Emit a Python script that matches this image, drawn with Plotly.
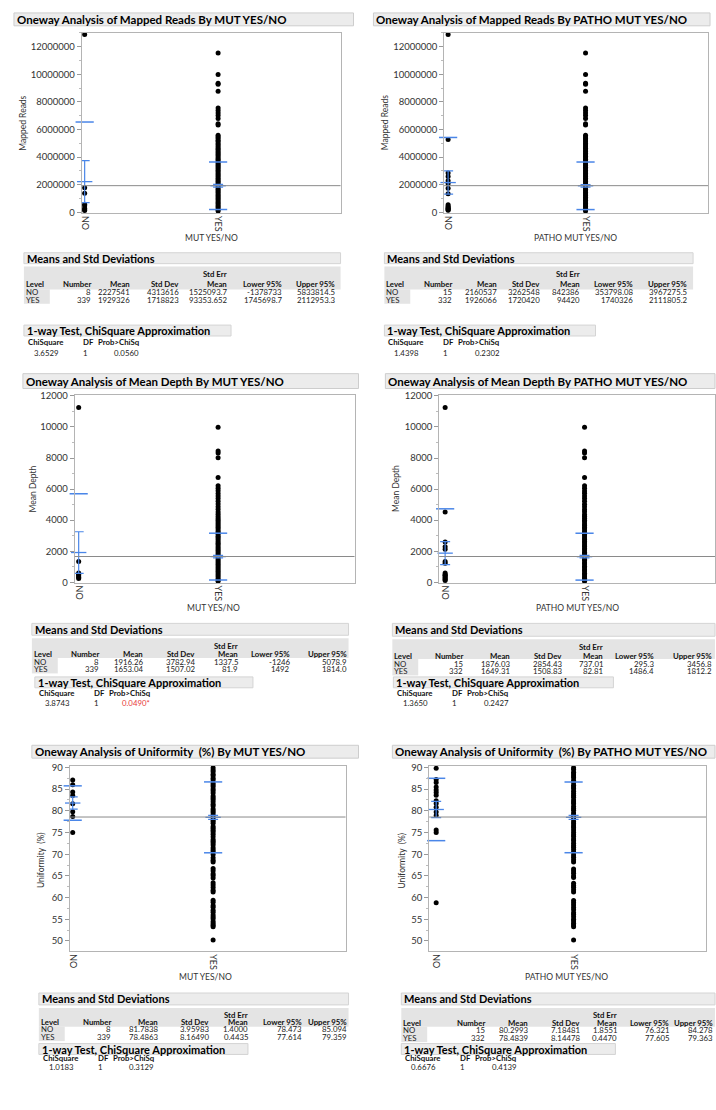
import plotly.graph_objects as go

W, H = 716, 1110
FONT = "Lato"
BLUE = "#4a86e8"
FRAME = "#b4b4b4"
TXT = "#222222"

LEVELS = ["NO", "YES"]

MR_MUT_NO = [12880000, 1780000, 1380000, 590000, 480000, 300000, 200000, 140000]
MR_MUT_YES = [11530000, 9980000, 9340000, 9270000, 8760000, 7560000, 7380000, 7200000, 7020000,
              6790000, 6420000, 6320000, 5580000, 5470000, 5360000, 5230000, 5130000, 4990000,
              4880000, 4760000, 4630000, 4530000, 4410000, 4300000, 4190000, 4080000, 3960000,
              3850000, 3730000, 3620000, 3510000, 3390000, 3280000, 3170000, 3050000, 2940000,
              2820000, 2710000, 2600000, 2480000, 2370000, 2250000, 2140000, 2030000, 1910000,
              1800000, 1680000, 1570000, 1460000, 1340000, 1230000, 1110000, 1000000, 890000,
              770000, 660000, 540000, 430000, 320000, 200000, 110000]
MR_PATHO_NO = [12880000, 5280000, 2850000, 2600000, 2300000, 2100000, 1750000, 1350000,
               550000, 450000, 350000, 300000, 250000, 200000, 150000]
MR_PATHO_YES = [11530000, 9980000, 9340000, 9270000, 8760000, 7560000, 7380000, 7200000, 7020000,
                6790000, 6420000, 6320000, 5580000, 5460000, 5350000, 5240000, 5120000, 4990000,
                4870000, 4760000, 4640000, 4520000, 4410000, 4290000, 4180000, 4070000, 3950000,
                3840000, 3730000, 3610000, 3500000, 3390000, 3270000, 3160000, 3040000, 2930000,
                2820000, 2700000, 2590000, 2480000, 2360000, 2250000, 2130000, 2020000, 1900000,
                1790000, 1680000, 1560000, 1450000, 1330000, 1220000, 1100000, 990000, 880000,
                760000, 650000, 530000, 420000, 310000, 190000, 100000]

MD_MUT_NO = [11260, 1340, 600, 540, 480, 400, 330, 250]
MD_MUT_YES = [9980, 8450, 8330, 8020, 6750, 6210, 6060, 5890, 5720, 5560, 5400, 5210, 5040, 4860,
              4700, 4530, 4380, 4240, 4110, 4000, 3880, 3770, 3650, 3540, 3430, 3310, 3200, 3090,
              2970, 2860, 2750, 2630, 2520, 2410, 2290, 2180, 2070, 1950, 1840, 1730, 1610, 1500,
              1390, 1270, 1160, 1050, 930, 820, 710, 590, 480, 370, 250, 140, 60]
MD_PATHO_NO = [11260, 4520, 2600, 2280, 2120, 1340, 1230, 600, 500, 450, 400, 330, 250, 180, 120]
MD_PATHO_YES = [9980, 8450, 8330, 8020, 6750, 6220, 6050, 5880, 5730, 5550, 5390, 5220, 5030, 4870,
                4690, 4540, 4370, 4250, 4120, 3990, 3890, 3760, 3660, 3530, 3440, 3300, 3210, 3080,
                2980, 2850, 2760, 2620, 2530, 2400, 2300, 2170, 2080, 1940, 1850, 1720, 1620, 1490,
                1400, 1260, 1170, 1040, 940, 810, 720, 580, 490, 360, 260, 130, 60]

UN_MUT_NO = [87.1, 86.0, 84.3, 83.5, 81.6, 79.8, 78.7, 75.0]
UN_MUT_YES = [89.9, 89.4, 89.0, 88.4, 88.1, 87.5, 87.1, 86.4, 86.0, 85.6, 85.0, 84.6, 84.1, 83.4,
              83.0, 82.6, 82.1, 81.5, 81.1, 80.4, 80.0, 79.6, 79.1, 78.5, 78.0, 77.6, 77.1, 76.4,
              76.0, 75.5, 75.1, 74.6, 74.0, 73.4, 73.0, 72.6, 72.1, 71.5, 71.0, 70.6, 69.9, 69.2,
              68.6, 68.2, 66.7, 66.2, 65.5, 65.1, 64.5, 63.4, 62.9, 62.3, 61.7, 61.3, 59.4, 58.9,
              58.2, 57.8, 57.1, 56.6, 56.0, 55.5, 55.1, 54.5, 54.0, 53.6, 53.3, 50.2]
UN_PATHO_NO = [89.8, 87.2, 86.5, 85.5, 84.8, 84.2, 83.6, 82.3, 81.7, 80.8, 79.7, 78.9, 75.6, 75.0, 58.8]
UN_PATHO_YES = [89.9, 89.5, 88.9, 88.5, 88.0, 87.6, 87.0, 86.5, 85.9, 85.5, 85.1, 84.5, 84.0, 83.5,
                83.1, 82.5, 82.0, 81.6, 81.0, 80.5, 80.1, 79.5, 79.0, 78.6, 78.1, 77.5, 77.0, 76.5,
                76.1, 75.6, 75.0, 74.5, 74.1, 73.5, 73.1, 72.5, 72.0, 71.6, 71.1, 70.5, 69.8, 69.3,
                68.7, 68.2, 66.6, 66.1, 65.6, 65.0, 64.6, 63.3, 62.8, 62.4, 61.8, 61.3, 59.3, 58.8,
                58.3, 57.7, 57.2, 56.5, 56.1, 55.6, 55.0, 54.6, 54.1, 53.7, 53.3, 50.2]

# ---------------- summary tables (as printed) ----------------
MR_MUT_N = ["8", "339"]
MR_MUT_MEAN = ["2227541", "1929326"]
MR_MUT_SD = ["4313616", "1718823"]
MR_MUT_SEM = ["1525093.7", "93353.652"]
MR_MUT_LO = ["-1378733", "1745698.7"]
MR_MUT_HI = ["5833814.5", "2112953.3"]
MR_MUT_CHI = ["3.6529", "1", "0.0560"]

MR_PATHO_N = ["15", "332"]
MR_PATHO_MEAN = ["2160537", "1926066"]
MR_PATHO_SD = ["3262548", "1720420"]
MR_PATHO_SEM = ["842386", "94420"]
MR_PATHO_LO = ["353798.08", "1740326"]
MR_PATHO_HI = ["3967275.5", "2111805.2"]
MR_PATHO_CHI = ["1.4398", "1", "0.2302"]

MD_MUT_N = ["8", "339"]
MD_MUT_MEAN = ["1916.26", "1653.04"]
MD_MUT_SD = ["3782.94", "1507.02"]
MD_MUT_SEM = ["1337.5", "81.9"]
MD_MUT_LO = ["-1246", "1492"]
MD_MUT_HI = ["5078.9", "1814.0"]
MD_MUT_CHI = ["3.8743", "1", "0.0490*"]

MD_PATHO_N = ["15", "332"]
MD_PATHO_MEAN = ["1876.03", "1649.31"]
MD_PATHO_SD = ["2854.43", "1508.83"]
MD_PATHO_SEM = ["737.01", "82.81"]
MD_PATHO_LO = ["295.3", "1486.4"]
MD_PATHO_HI = ["3456.8", "1812.2"]
MD_PATHO_CHI = ["1.3650", "1", "0.2427"]

UN_MUT_N = ["8", "339"]
UN_MUT_MEAN = ["81.7838", "78.4863"]
UN_MUT_SD = ["3.95983", "8.16490"]
UN_MUT_SEM = ["1.4000", "0.4435"]
UN_MUT_LO = ["78.473", "77.614"]
UN_MUT_HI = ["85.094", "79.359"]
UN_MUT_CHI = ["1.0183", "1", "0.3129"]

UN_PATHO_N = ["15", "332"]
UN_PATHO_MEAN = ["80.2993", "78.4839"]
UN_PATHO_SD = ["7.18481", "8.14478"]
UN_PATHO_SEM = ["1.8551", "0.4470"]
UN_PATHO_LO = ["76.321", "77.605"]
UN_PATHO_HI = ["84.278", "79.363"]
UN_PATHO_CHI = ["0.6676", "1", "0.4139"]

COL_HEADERS = ["Number", "Mean", "Std Dev", "Mean", "Lower 95%", "Upper 95%"]
CHI_HEADERS = ["ChiSquare", "DF", "Prob>ChiSq"]


def X(px):
    return px / W


def Y(py):
    return 1 - py / H


fig = go.Figure()
ann = []
shapes = []


def text(x, y, s, size=7.8, bold=False, anchor="left", color=TXT, angle=0):
    ann.append(dict(x=X(x), y=Y(y), xref="paper", yref="paper",
                    text=f"<b>{s}</b>" if bold else s, showarrow=False,
                    xanchor=anchor, yanchor="middle", textangle=angle, borderpad=0,
                    font=dict(family=FONT, size=size, color=color)))


def rect(x0, x1, y0, y1, fill, line=None):
    shapes.append(dict(type="rect", xref="paper", yref="paper", x0=X(x0), x1=X(x1),
                       y0=Y(y1), y1=Y(y0), fillcolor=fill, layer="below",
                       line=dict(width=1 if line else 0, color=line or fill)))


PANELS = [
    dict(title="Oneway Analysis of Mapped Reads By MUT YES/NO", bar=(12, 353, 8, 21),
         plot=(80, 340, 28, 210), cat=(83, 217), yr=(-50000, 13000000), dtick=2000000,
         ytitle="Mapped Reads", yt=(21, 119), xtitle="MUT YES/NO", xt=(210, 235),
         pts=(MR_MUT_NO, MR_MUT_YES), n=MR_MUT_N, mean=MR_MUT_MEAN, sd=MR_MUT_SD, sem=MR_MUT_SEM),
    dict(title="Oneway Analysis of Mapped Reads By PATHO MUT YES/NO", bar=(373, 711, 8, 21),
         plot=(444, 709, 28, 210), cat=(448, 586), yr=(-50000, 13000000), dtick=2000000,
         ytitle="Mapped Reads", yt=(385, 119), xtitle="PATHO MUT YES/NO", xt=(576, 235),
         pts=(MR_PATHO_NO, MR_PATHO_YES), n=MR_PATHO_N, mean=MR_PATHO_MEAN, sd=MR_PATHO_SD, sem=MR_PATHO_SEM),
    dict(title="Oneway Analysis of Mean Depth By MUT YES/NO", bar=(21, 358, 372, 387),
         plot=(73, 354, 394, 583), cat=(77, 217), yr=(-30, 12030), dtick=2000,
         ytitle="Mean Depth", yt=(31, 488), xtitle="MUT YES/NO", xt=(212, 608),
         pts=(MD_MUT_NO, MD_MUT_YES), n=MD_MUT_N, mean=MD_MUT_MEAN, sd=MD_MUT_SD, sem=MD_MUT_SEM),
    dict(title="Oneway Analysis of Mean Depth By PATHO MUT YES/NO", bar=(385, 716, 372, 387),
         plot=(439, 716, 394, 583), cat=(445, 585), yr=(-30, 12030), dtick=2000,
         ytitle="Mean Depth", yt=(395, 488), xtitle="PATHO MUT YES/NO", xt=(578, 608),
         pts=(MD_PATHO_NO, MD_PATHO_YES), n=MD_PATHO_N, mean=MD_PATHO_MEAN, sd=MD_PATHO_SD, sem=MD_PATHO_SEM),
    dict(title="Oneway Analysis of Uniformity  (%) By MUT YES/NO", bar=(30, 358, 747, 760),
         plot=(68, 345, 768, 955), cat=(71, 212), yr=(47.6, 90.3), dtick=5,
         ytitle="Uniformity  (%)", yt=(39, 863), xtitle="MUT YES/NO", xt=(204, 981),
         pts=(UN_MUT_NO, UN_MUT_YES), n=UN_MUT_N, mean=UN_MUT_MEAN, sd=UN_MUT_SD, sem=UN_MUT_SEM),
    dict(title="Oneway Analysis of Uniformity  (%) By PATHO MUT YES/NO", bar=(392, 716, 747, 760),
         plot=(429, 707, 768, 955), cat=(436, 574), yr=(47.6, 90.3), dtick=5,
         ytitle="Uniformity  (%)", yt=(402, 863), xtitle="PATHO MUT YES/NO", xt=(567, 981),
         pts=(UN_PATHO_NO, UN_PATHO_YES), n=UN_PATHO_N, mean=UN_PATHO_MEAN, sd=UN_PATHO_SD, sem=UN_PATHO_SEM),
]

layout_axes = {}
for i, p in enumerate(PANELS, start=1):
    xs = "" if i == 1 else str(i)
    xa, ya = f"x{xs}", f"y{xs}"
    px0, px1, py0, py1 = p["plot"]
    c0, c1 = p["cat"]
    sc = c1 - c0
    layout_axes[f"xaxis{xs}"] = dict(
        domain=[X(px0), X(px1)], range=[(px0 - c0) / sc, (px1 - c0) / sc], anchor=ya,
        tickmode="array", tickvals=[0, 1], ticktext=LEVELS, tickangle=90,
        showline=True, mirror=True, linecolor=FRAME, linewidth=1, ticks="",
        showgrid=False, zeroline=False, tickfont=dict(family=FONT, size=9, color="#333"))
    layout_axes[f"yaxis{xs}"] = dict(
        domain=[Y(py1), Y(py0)], range=list(p["yr"]), anchor=xa, tick0=0, dtick=p["dtick"],
        tickformat="d", ticks="outside", ticklen=4, tickcolor="#999", showline=True, mirror=True,
        linecolor=FRAME, linewidth=1, showgrid=False, zeroline=False,
        minor=dict(dtick=p["dtick"] / 2, ticks="outside", ticklen=2, tickcolor="#bbb"),
        tickfont=dict(family=FONT, size=9.5, color="#333"))

    # title bar
    bx0, bx1, by0, by1 = p["bar"]
    rect(bx0, bx1, by0, by1, "#ececec", "#cdcdcd")
    text(bx0 + 2, (by0 + by1) / 2, p["title"], size=11.5, bold=True, color="#000")
    text(p["yt"][0], p["yt"][1], p["ytitle"], size=8.5, angle=-90, anchor="center", color="#333")
    text(p["xt"][0], p["xt"][1], p["xtitle"], size=8.5, anchor="center", color="#333")

    # grand mean
    n = [float(v) for v in p["n"]]
    m = [float(v) for v in p["mean"]]
    gm = (n[0] * m[0] + n[1] * m[1]) / (n[0] + n[1])
    shapes.append(dict(type="line", xref=f"{xa} domain", yref=ya, x0=0, x1=1, y0=gm, y1=gm,
                       line=dict(color="#8a8a8a", width=1), layer="above"))

    # points
    for g, vals in enumerate(p["pts"]):
        fig.add_trace(go.Scatter(x=[g] * len(vals), y=vals, mode="markers", xaxis=xa, yaxis=ya,
                                 marker=dict(color="black", size=5), cliponaxis=False,
                                 showlegend=False, hoverinfo="y"))
    # means, error bars and std dev lines
    for g in range(2):
        mu, s, e = float(p["mean"][g]), float(p["sd"][g]), float(p["sem"][g])
        fig.add_trace(go.Scatter(x=[g], y=[mu], mode="markers", xaxis=xa, yaxis=ya,
                                 marker=dict(symbol="line-ew", size=11, line=dict(width=1.3, color=BLUE)),
                                 error_y=dict(type="data", array=[e], color=BLUE, thickness=1.2, width=5),
                                 cliponaxis=False, showlegend=False))
        sdv = [v for v in (mu - s, mu + s) if p["yr"][0] <= v <= p["yr"][1]]
        fig.add_trace(go.Scatter(x=[g] * len(sdv), y=sdv, mode="markers", xaxis=xa, yaxis=ya,
                                 marker=dict(symbol="line-ew", size=13, line=dict(width=1.5, color=BLUE)),
                                 cliponaxis=False, showlegend=False))

TABLES = [
    dict(cols=(MR_MUT_N, MR_MUT_MEAN, MR_MUT_SD, MR_MUT_SEM, MR_MUT_LO, MR_MUT_HI), chi=MR_MUT_CHI,
         x0=22, x1=340, lvl=26, ty=(250, 261), gy=(264, 287), se=271, hd=281.5, rows=(289.5, 297.5),
         cx=(90, 130, 179, 227, 282, 335), cb=(22, 230, 323, 334), ch=340, cv=351),
    dict(cols=(MR_PATHO_N, MR_PATHO_MEAN, MR_PATHO_SD, MR_PATHO_SEM, MR_PATHO_LO, MR_PATHO_HI), chi=MR_PATHO_CHI,
         x0=384, x1=694, lvl=26, ty=(250, 261), gy=(264, 287), se=271, hd=281.5, rows=(289.5, 297.5),
         cx=(453, 498, 541, 581, 635, 689), cb=(384, 596, 323, 334), ch=340, cv=351),
    dict(cols=(MD_MUT_N, MD_MUT_MEAN, MD_MUT_SD, MD_MUT_SEM, MD_MUT_LO, MD_MUT_HI), chi=MD_MUT_CHI,
         x0=30, x1=348, lvl=26, ty=(624, 636), gy=(639, 659), se=647, hd=655, rows=(662.5, 670.5),
         cx=(98, 143, 195, 238, 290, 347), cb=(33, 252, 678, 689), ch=694, cv=704),
    dict(cols=(MD_PATHO_N, MD_PATHO_MEAN, MD_PATHO_SD, MD_PATHO_SEM, MD_PATHO_LO, MD_PATHO_HI), chi=MD_PATHO_CHI,
         x0=392, x1=716, lvl=26, ty=(624, 637), gy=(640, 660), se=648, hd=657, rows=(664.5, 672.5),
         cx=(464, 511, 563, 605, 656, 714), cb=(393, 614, 678, 689), ch=694, cv=704),
    dict(cols=(UN_MUT_N, UN_MUT_MEAN, UN_MUT_SD, UN_MUT_SEM, UN_MUT_LO, UN_MUT_HI), chi=UN_MUT_CHI,
         x0=37, x1=348, lvl=26, ty=(997, 1009), gy=(1012, 1031), se=1019, hd=1026, rows=(1033.5, 1041.5),
         cx=(110, 158, 209, 248, 302, 347), cb=(37, 247, 1048, 1059), ch=1063, cv=1072),
    dict(cols=(UN_PATHO_N, UN_PATHO_MEAN, UN_PATHO_SD, UN_PATHO_SEM, UN_PATHO_LO, UN_PATHO_HI), chi=UN_PATHO_CHI,
         x0=401, x1=716, lvl=26, ty=(997, 1009), gy=(1012, 1031), se=1019, hd=1027, rows=(1034.5, 1042.5),
         cx=(486, 529, 581, 619, 671, 715), cb=(401, 616, 1048, 1059), ch=1063, cv=1072),
]

for t in TABLES:
    x0 = t["x0"]
    rect(x0, t["x1"], t["ty"][0], t["ty"][1], "#ececec", "#d4d4d4")
    text(x0 + 2, sum(t["ty"]) / 2, "Means and Std Deviations", size=11, bold=True, color="#000")
    rect(x0, t["x1"], t["gy"][0], t["gy"][1], "#e4e4e4")
    rect(x0, x0 + t["lvl"], t["gy"][1], t["rows"][1] + 4, "#e4e4e4")
    text(t["cx"][3], t["se"], "Std Err", bold=True, anchor="right", color="#111")
    text(x0 + 1, t["hd"], "Level", bold=True, color="#111")
    for cx, h in zip(t["cx"], COL_HEADERS):
        text(cx, t["hd"], h, bold=True, anchor="right", color="#111")
    for r, lev in enumerate(LEVELS):
        ry = t["rows"][r]
        text(x0 + 1, ry, lev)
        for cx, col in zip(t["cx"], t["cols"]):
            text(cx, ry, col[r], anchor="right")
    bx0, bx1, by0, by1 = t["cb"]
    rect(bx0, bx1, by0, by1, "#ececec", "#d4d4d4")
    text(bx0 + 2, (by0 + by1) / 2, "1-way Test, ChiSquare Approximation", size=11, bold=True, color="#000")
    text(bx0 + 3, t["ch"], CHI_HEADERS[0], bold=True, color="#111")
    text(bx0 + 58, t["ch"], CHI_HEADERS[1], bold=True, color="#111")
    text(bx0 + 73, t["ch"], CHI_HEADERS[2], bold=True, color="#111")
    chi, df, prob = t["chi"]
    text(bx0 + 36, t["cv"], chi, anchor="right")
    text(bx0 + 65, t["cv"], df, anchor="right")
    text(bx0 + 117, t["cv"], prob, anchor="right",
         color="#e8383b" if prob.endswith("*") else TXT)

fig.update_layout(width=W, height=H, margin=dict(l=0, r=0, t=0, b=0),
                  paper_bgcolor="white", plot_bgcolor="white", showlegend=False,
                  annotations=ann, shapes=shapes, **layout_axes)
fig.write_html("out.html", config={"displayModeBar": False},
               post_script="document.body.style.margin='0';document.body.style.overflow='hidden';")
